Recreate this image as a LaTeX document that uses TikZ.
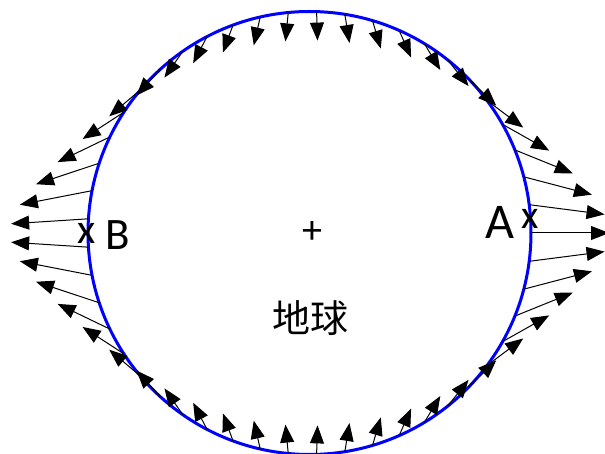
\documentclass[tikz,border=0pt]{standalone}
\usepackage{fontspec}
\setmainfont{Carlito}
\newfontfamily\cjk{Noto Sans CJK SC}
\usetikzlibrary{arrows.meta,calc}
\tikzset{
  earth/.style={draw=blue, line width=3pt},
  force/.style={line width=1pt, draw=black, -{Triangle[length=18pt,width=14pt]}},
  lbl/.style={inner sep=0pt, text=black}
}
\begin{document}
\begin{tikzpicture}[x=1pt,y=1pt]
\useasboundingbox (-309.5,-221) rectangle (295.5,233);
\node[draw=none, minimum size=0pt] (c) at (0,0) {};
\draw[earth] (c.center) circle (221.5);
\foreach \k in {0,...,48}{
  \pgfmathsetmacro\t{7.34693878*\k}
  \pgfmathsetmacro\cc{abs(cos(\t))}
  \pgfmathsetmacro\L{29+49*\cc*\cc*\cc*\cc*\cc}
  \pgfmathsetmacro\ddx{\L*cos(\t)}
  \pgfmathsetmacro\ddy{-\L*sin(\t)}
  \coordinate (s\k) at (\t:221.5);
  \coordinate (e\k) at ($(s\k)+(\ddx,\ddy)$);
  \draw[force] (s\k) -- (e\k);
}
\node[lbl, font=\fontsize{50}{50}\selectfont] (A) at (190.5,11) {A};
\node[lbl, font=\fontsize{40}{40}\selectfont] (xa) at (221,14) {x};
\node[lbl, font=\fontsize{45}{45}\selectfont] (B) at (-191.5,-2) {B};
\node[lbl, font=\fontsize{42}{42}\selectfont] (xb) at (-223,0) {x};
\node[lbl, font=\fontsize{40}{40}\selectfont] (plus) at (2.5,0) {+};
\node[lbl, font=\fontsize{38}{38}\selectfont\cjk] (earthlbl) at (0.5,-85) {地球};
\end{tikzpicture}
\end{document}
